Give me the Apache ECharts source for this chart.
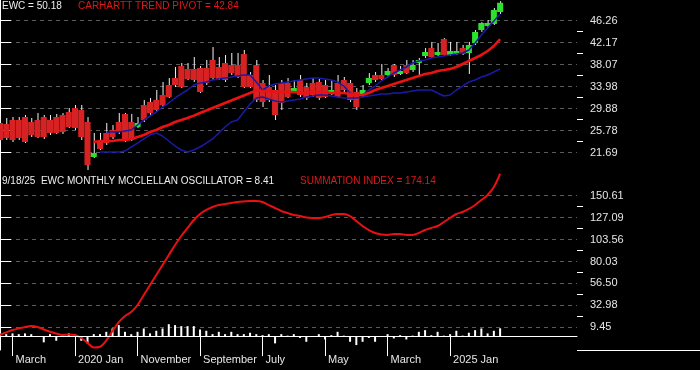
<!DOCTYPE html>
<html><head><meta charset="utf-8">
<script src="https://cdn.jsdelivr.net/npm/echarts@6/dist/echarts.min.js"></script>
<style>html,body{margin:0;padding:0;background:#000;}#c{width:700px;height:370px;}</style>
</head><body><div id="c"></div>
<script>
// Monthly data, index 0 = Jan 2019 ... index 80 = Sep 2025
const open = [27.22,27.03,27.77,27.77,28.33,27.40,27.77,28.33,27.77,28.33,
28.71,29.26,30.01,29.64,27.40,20.89,23.68,25.36,25.91,27.40,
28.89,27.40,26.47,30.57,31.13,31.50,32.43,34.29,35.59,37.83,
37.27,37.27,37.45,37.45,38.94,37.64,38.39,38.01,38.01,40.06,
36.15,38.01,34.66,33.92,33.36,34.66,34.66,33.17,35.22,33.92,
34.66,34.85,34.29,32.80,34.66,35.22,34.66,32.99,32.43,34.66,
36.15,36.15,36.15,38.01,36.34,38.01,37.08,38.39,39.69,41.18,
39.88,42.85,39.88,40.06,41.18,40.25,42.11,44.53,45.27,45.65,47.88];
const close = [24.05,24.42,24.05,24.42,23.68,24.98,24.61,24.61,25.36,25.36,
25.54,26.47,26.29,24.61,19.40,21.63,22.38,23.49,24.61,25.54,
24.05,24.05,27.22,27.77,29.08,29.64,30.57,32.06,34.29,33.92,
35.41,35.22,32.99,34.66,35.59,35.41,35.22,36.52,35.78,33.92,
33.92,31.50,31.13,31.50,28.71,30.94,32.06,33.73,32.43,31.87,
32.43,31.87,32.06,33.36,32.06,33.36,31.50,30.19,33.36,35.59,
35.22,35.41,36.90,36.15,36.90,36.52,38.01,38.94,40.43,39.50,
40.43,39.88,40.62,40.62,40.06,41.74,44.16,45.83,45.83,48.25,49.60];
const high = [28.33,28.15,28.33,28.33,28.71,28.15,29.08,28.71,28.71,28.89,
29.08,30.01,30.57,30.57,28.33,25.36,25.36,27.22,26.84,29.08,
29.08,28.89,28.33,31.50,31.87,33.36,34.85,35.59,37.64,38.39,
38.39,39.50,37.83,38.94,41.36,39.50,39.88,40.25,40.25,40.81,
36.71,38.94,35.22,36.15,34.29,35.22,35.59,35.22,36.15,34.66,
35.59,35.41,35.22,35.22,36.15,35.78,35.22,33.73,34.29,36.52,
36.71,38.20,37.45,38.20,37.83,38.94,38.94,39.32,41.18,42.30,
42.11,43.04,42.30,42.30,41.74,42.30,44.53,46.00,46.39,48.62,49.90];
const low = [23.49,24.05,23.68,24.05,23.49,24.61,24.42,24.24,24.98,25.17,
25.17,26.29,25.91,24.05,18.47,20.70,22.19,23.12,24.24,25.17,
23.68,23.87,26.29,27.40,28.71,29.26,30.19,31.87,33.92,33.73,
35.22,34.85,32.80,34.29,35.22,35.22,34.85,36.15,35.59,33.73,
33.73,31.13,30.19,31.13,27.77,29.64,31.87,32.80,32.06,31.50,
32.06,31.50,31.87,32.43,31.87,32.99,31.13,29.64,32.06,34.29,
34.85,35.22,35.78,35.78,36.15,36.34,36.71,35.78,39.32,39.32,
39.69,39.69,39.69,39.88,39.88,36.34,41.74,44.16,44.90,45.46,47.50];
const pivot = [null,null,null,null,null,null,null,null,null,null,
null,null,null,null,null,23.68,23.87,23.87,23.87,24.05,
24.05,24.24,24.61,24.98,25.54,25.91,26.47,26.84,27.40,27.77,
28.15,28.59,29.08,29.54,30.01,30.47,30.94,31.40,31.87,32.34,
32.80,33.27,33.17,33.17,32.99,32.99,32.99,32.99,32.80,32.80,
32.99,32.99,32.99,32.80,32.80,32.80,32.62,32.43,32.43,32.80,
33.36,33.73,34.10,34.48,34.85,35.22,35.59,35.96,36.34,36.52,
36.90,37.08,37.27,37.64,38.20,38.76,39.32,39.88,40.62,41.55,42.84];
const bandUpper = [null,null,null,null,null,null,null,null,null,null,
null,null,null,null,null,null,null,25.54,25.54,25.54,
25.73,25.91,26.84,27.77,28.52,29.26,30.19,30.94,31.87,32.62,
33.36,34.29,34.66,34.85,35.22,35.41,35.59,35.78,35.96,36.15,
36.15,34.85,33.36,34.10,34.48,34.66,34.85,35.03,35.22,35.41,
35.59,35.59,35.41,35.22,34.85,34.10,32.80,32.43,32.43,33.36,
34.10,35.03,35.78,36.52,37.08,37.64,38.39,38.76,38.94,39.32,
39.50,39.69,39.88,40.06,40.25,40.81,42.11,43.60,44.90,46.20,47.51];
const bandLower = [null,null,null,null,null,null,null,null,null,null,
null,null,null,null,null,null,21.82,21.82,21.82,21.82,
22.00,22.75,23.49,24.24,24.98,25.36,24.80,23.87,22.93,22.19,
21.82,22.19,22.75,23.49,24.24,25.36,26.47,27.40,27.77,29.26,
30.75,31.87,32.06,31.68,31.31,31.13,31.31,31.50,31.68,32.06,
32.24,32.43,32.43,32.24,32.06,31.87,31.87,31.87,32.06,32.24,
32.43,32.62,32.62,32.80,32.80,32.99,33.17,33.36,33.36,33.36,
32.80,32.24,32.43,33.36,34.10,34.85,35.22,35.78,36.15,36.71,37.27];
const oscillator = [1,2.1,2.9,2.1,2.9,2.1,-1,-6.7,2.1,-5,
2.1,2.9,2.1,-5,-7.8,2.1,2.1,4.6,8.2,11.8,
4.6,2.1,4.6,8.2,2.9,5.7,8.2,12.8,11.8,10.7,
10.7,10.7,7.1,5.7,2.1,4.6,2.1,4.6,2.1,2.1,
3.6,2.1,1,2.1,-7.8,2.1,0.5,2.1,-2,-6.1,
-1,2.1,-3.6,1,4.6,0.5,-6.1,-9.6,-6.1,-2,
-6.1,-1,2.1,-2.5,1,-3.6,0.5,4.6,6.4,1,
4.6,0.5,2.1,5.7,0.5,3.6,6.4,8.2,2.9,5.7,8.41];
const summation = [1.5,4,6.5,8.2,9.8,10.8,9.8,7.1,4.7,2.8,
1.2,1.7,1.2,-2,-7.3,-12.2,-11.4,-4.7,5.5,15,
21.6,25.9,33.4,44.1,54.8,65.5,76.3,87,97.7,107.4,
116,124.5,131,135.3,138.5,140.6,141.7,142.8,143.8,144.4,
144.9,144.9,143.8,140.6,137.4,134.2,132,129.9,128.8,127.2,
126.7,126.7,127.7,129.9,131,131,128.8,123.5,118.1,113.8,
110.6,109,108.5,109.5,109.5,108.5,108.5,110.6,113.8,116,
118.1,122.4,126.7,131,133.1,136.4,140.6,146,151.4,159.9,174.14];
const priceTicks = [21.69,25.78,29.88,33.98,38.07,42.17,46.26];
const sumTicks = [9.45,32.98,56.50,80.03,103.56,127.09,150.61];
const xLabelIdx = [2,12,22,32,42,52,62,72];
const xLabelText = ['March','2020 Jan','November','September','July','May','March','2025 Jan'];

const RED = '#d62222', GREEN = '#2ee02e', PIVOT = '#ee1111', BLUE = '#1a1aa8';
const FONT = 'Liberation Sans, Arial, sans-serif';
const mids = a => a.slice(1).map((v,i)=>(v+a[i])/2);
const pairs = a => a.map((v,i)=>[i,v]).filter(d=>d[1]!=null);
const candleData = close.map((c,i)=>[i, open[i], c, low[i], high[i]]);

function renderCandle(params, api){
  const x = api.value(0), o = api.value(1), c = api.value(2), lo = api.value(3), hi = api.value(4);
  const pO = api.coord([x,o]), pC = api.coord([x,c]), pH = api.coord([x,hi]), pL = api.coord([x,lo]);
  const w = api.size([1,0])[0]*0.97;
  const top = Math.min(pO[1],pC[1]);
  const h = Math.max(2, Math.abs(pO[1]-pC[1]));
  return {type:'group', children:[
    {type:'line', shape:{x1:pH[0]+0.5,y1:pH[1],x2:pL[0]+0.5,y2:pL[1]}, style:{stroke:'#f2f2f2', lineWidth:1}},
    {type:'rect', shape:{x:pO[0]-w/2, y:top, width:w, height:h}, style:{fill: c>=o ? GREEN : RED}}
  ]};
}

const XMAX = 92.3;
const axisLbl = {color:'#e6e6e6', fontSize:11, fontFamily:FONT};
const titleStyle = (col) => ({color:col, fontSize:10, fontWeight:'normal', fontFamily:FONT});
const chart = echarts.init(document.getElementById('c'));
chart.setOption({
  animation:false,
  backgroundColor:'#000',
  title:[
    {text:'EWC = 50.18', left:2, top:1, padding:0, textStyle:titleStyle('#eeeeee')},
    {text:'CARHARTT TREND PIVOT = 42.84', left:78, top:1, padding:0, textStyle:titleStyle('#e01818')},
    {text:'9/18/25  EWC MONTHLY MCCLELLAN OSCILLATOR = 8.41', left:2, top:176, padding:0, textStyle:titleStyle('#eeeeee')},
    {text:'SUMMATION INDEX = 174.14', left:300, top:176, padding:0, textStyle:titleStyle('#e01818')}
  ],
  grid:[
    {left:0, top:0, width:577, height:172},
    {left:0, top:172, width:577, height:178}
  ],
  xAxis:[
    {gridIndex:0, type:'value', min:0, max:XMAX, show:false},
    {gridIndex:1, type:'value', min:0, max:XMAX,
      axisLine:{show:true, lineStyle:{color:'#ffffff', width:1}},
      axisTick:{show:true, customValues:xLabelIdx, length:20, inside:false, lineStyle:{color:'#ffffff'}},
      axisLabel:{show:true, customValues:xLabelIdx, align:'left', margin:4, padding:[0,0,0,3], ...axisLbl,
        formatter:v=>{const k=xLabelIdx.indexOf(Math.round(v)); return k>=0?xLabelText[k]:'';}},
      splitLine:{show:false}}
  ],
  yAxis:[
    {gridIndex:0, type:'value', position:'right', min:18.095, max:50.113,
      axisLine:{show:true, lineStyle:{color:'#ffffff'}},
      axisTick:{show:true, customValues:priceTicks, length:11, lineStyle:{color:'#ffffff'}},
      axisLabel:{show:true, customValues:priceTicks, margin:13, ...axisLbl, formatter:v=>v.toFixed(2)},
      splitLine:{show:true, lineStyle:{color:'#5a5a5a', type:[4,4], width:1}}},
    {gridIndex:0, type:'value', position:'right', min:18.095, max:50.113,
      axisLine:{show:false}, axisLabel:{show:false}, splitLine:{show:false},
      axisTick:{show:true, customValues:mids(priceTicks), length:6, lineStyle:{color:'#ffffff'}}},
    {gridIndex:1, type:'value', position:'right', min:-14.9, max:176.03,
      axisLine:{show:true, lineStyle:{color:'#ffffff'}},
      axisTick:{show:true, customValues:sumTicks, length:11, lineStyle:{color:'#ffffff'}},
      axisLabel:{show:true, customValues:sumTicks, margin:13, ...axisLbl, formatter:v=>v.toFixed(2)},
      splitLine:{show:true, lineStyle:{color:'#5a5a5a', type:[4,4], width:1}}},
    {gridIndex:1, type:'value', position:'right', min:-14.9, max:176.03,
      axisLine:{show:false}, axisLabel:{show:false}, splitLine:{show:false},
      axisTick:{show:true, customValues:mids(sumTicks), length:6, lineStyle:{color:'#ffffff'}}}
  ],
  series:[
    {type:'custom', xAxisIndex:0, yAxisIndex:0, renderItem:renderCandle, data:candleData, z:2},
    {type:'line', xAxisIndex:0, yAxisIndex:0, data:pairs(bandLower), symbol:'none', lineStyle:{color:BLUE, width:1.5}, z:3},
    {type:'line', xAxisIndex:0, yAxisIndex:0, data:pairs(bandUpper), symbol:'none', lineStyle:{color:BLUE, width:1.5}, z:3},
    {type:'line', xAxisIndex:0, yAxisIndex:0, data:pairs(pivot), symbol:'none', lineStyle:{color:PIVOT, width:2.6}, z:4},
    {type:'bar', xAxisIndex:1, yAxisIndex:2, data:pairs(oscillator), barWidth:2, itemStyle:{color:'#ffffff'}, z:2,
      markLine:{silent:true, symbol:'none', label:{show:false}, lineStyle:{color:'#ffffff', type:'solid', width:1}, data:[{yAxis:0}]}},
    {type:'line', xAxisIndex:1, yAxisIndex:2, data:pairs(summation), symbol:'none', smooth:0.3, lineStyle:{color:'#e81010', width:2}, z:4}
  ],
  graphic:[
    {type:'line', shape:{x1:577, y1:350.5, x2:700, y2:350.5}, style:{stroke:'#ffffff', lineWidth:1}, silent:true}
  ]
});
</script></body></html>
